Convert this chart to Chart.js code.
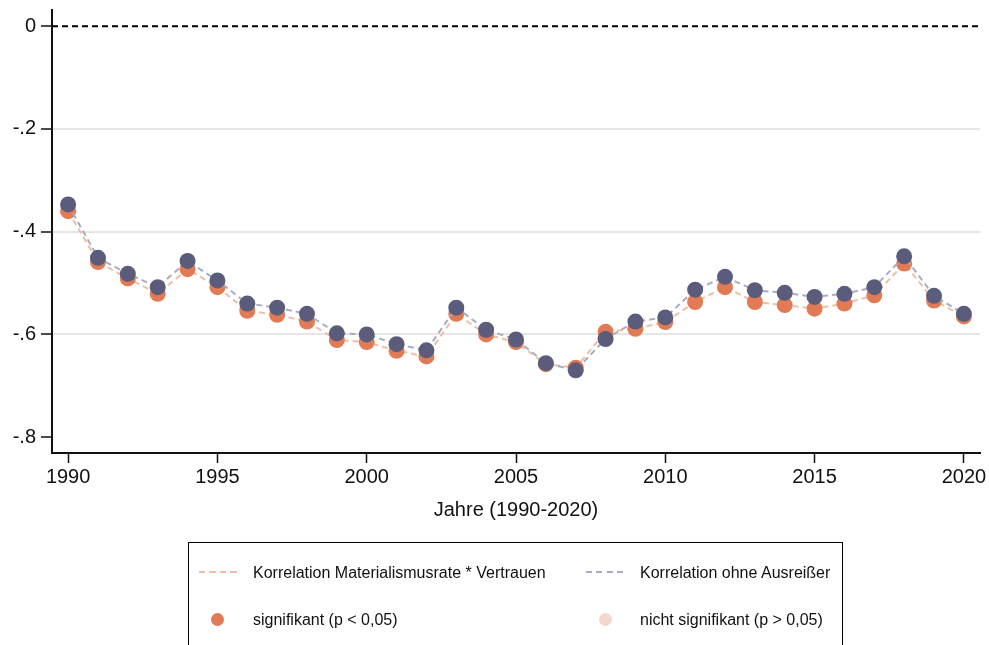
<!DOCTYPE html>
<html>
<head>
<meta charset="utf-8">
<script src="https://cdn.jsdelivr.net/npm/chart.js@4"></script>
<style>
  html, body { margin: 0; padding: 0; background: #fff; overflow: hidden; }
  #wrap { position: relative; width: 989px; height: 645px; font-family: "Liberation Sans", Arial, sans-serif; }
  #c { position: absolute; left: 0; top: 0; }
  #legend { position: absolute; left: 188px; top: 542px; width: 655px; height: 130px; border: 1px solid #000; box-sizing: border-box; }
  .item { position: absolute; font-size: 16px; color: #111; white-space: nowrap; line-height: 20px; }
  .dash { position: absolute; height: 2px; }
  .dot { position: absolute; width: 13px; height: 13px; border-radius: 50%; }
</style>
</head>
<body>
<div id="wrap">
  <canvas id="c" width="989" height="645"></canvas>
  <div id="legend"></div>
</div>
<script>
// ---- Data ----
const years = [1990,1991,1992,1993,1994,1995,1996,1997,1998,1999,2000,2001,2002,2003,2004,2005,2006,2007,2008,2009,2010,2011,2012,2013,2014,2015,2016,2017,2018,2019,2020];
const corrAll = [-0.360,-0.459,-0.491,-0.521,-0.473,-0.508,-0.554,-0.562,-0.575,-0.611,-0.615,-0.632,-0.643,-0.560,-0.600,-0.615,-0.658,-0.665,-0.595,-0.589,-0.576,-0.537,-0.508,-0.537,-0.543,-0.550,-0.540,-0.524,-0.462,-0.534,-0.565];
const corrNoOutliers = [-0.347,-0.451,-0.482,-0.508,-0.457,-0.495,-0.540,-0.548,-0.560,-0.598,-0.600,-0.619,-0.631,-0.548,-0.591,-0.610,-0.656,-0.670,-0.609,-0.575,-0.567,-0.513,-0.488,-0.514,-0.519,-0.527,-0.521,-0.508,-0.448,-0.525,-0.560];
const significant = [1,1,1,1,1,1,1,1,1,1,1,1,1,1,1,1,1,1,1,1,1,1,1,1,1,1,1,1,1,1,1];
const xTicks = [1990,1995,2000,2005,2010,2015,2020];
const yTicks = [-0.8,-0.6,-0.4,-0.2,0];
const labels = {
  lineAll: "Korrelation Materialismusrate * Vertrauen",
  lineNo: "Korrelation ohne Ausreißer",
  sig: "signifikant (p < 0,05)",
  nonsig: "nicht signifikant (p > 0,05)",
  xTitle: "Jahre (1990-2020)"
};

// ---- Colours ----
const C = {
  orangeDot: "#e07b56",
  orangeLine: "#f0bea8",
  purpleDot: "#5b5b7b",
  purpleLine: "#ababc2",
  nonsig: "#f3d7ca",
  grid: "#e6e6e6",
  axis: "#111"
};

const toXY = arr => arr.map((v, i) => ({ x: years[i], y: v }));

const zeroLine = {
  id: 'zeroLine',
  beforeDatasetsDraw(chart) {
    const { ctx, chartArea, scales } = chart;
    const y = scales.y.getPixelForValue(0);
    ctx.save();
    ctx.strokeStyle = '#000';
    ctx.lineWidth = 2;
    ctx.setLineDash([6, 4]);
    ctx.beginPath();
    ctx.moveTo(chartArea.left, y);
    ctx.lineTo(chartArea.right, y);
    ctx.stroke();
    ctx.restore();
  }
};

const font = { family: '"Liberation Sans", Arial, sans-serif', size: 20 };

new Chart(document.getElementById('c'), {
  type: 'line',
  data: {
    datasets: [
      {
        label: labels.lineAll,
        data: toXY(corrAll),
        borderColor: C.orangeLine,
        borderWidth: 2,
        borderDash: [6, 4],
        pointRadius: 8,
        pointBackgroundColor: significant.map(s => s ? C.orangeDot : C.nonsig),
        pointBorderWidth: 0,
        fill: false,
        tension: 0,
        order: 2
      },
      {
        label: labels.lineNo,
        data: toXY(corrNoOutliers),
        borderColor: C.purpleLine,
        borderWidth: 2,
        borderDash: [6, 4],
        pointRadius: 8,
        pointBackgroundColor: C.purpleDot,
        pointBorderWidth: 0,
        fill: false,
        tension: 0,
        order: 1
      }
    ]
  },
  options: {
    responsive: false,
    animation: false,
    devicePixelRatio: 1,
    layout: { padding: { left: 0, top: 10, right: 9, bottom: 123 } },
    plugins: { legend: { display: false }, tooltip: { enabled: false } },
    scales: {
      x: {
        type: 'linear',
        min: 1989.46,
        max: 2020.54,
        afterFit(s) { s.height = 69; s.paddingLeft = 0; s.paddingRight = 0; },
        afterBuildTicks(s) { s.ticks = xTicks.map(v => ({ value: v })); },
        border: { display: true, color: C.axis, width: 2 },
        grid: { drawOnChartArea: false, drawTicks: true, tickLength: 10, tickColor: C.axis, tickWidth: 1.5 },
        ticks: { color: '#111', font, padding: 2, maxRotation: 0, callback: v => String(v) },
        title: { display: true, text: labels.xTitle, color: '#111', font, padding: { top: 0, bottom: 0 } }
      },
      y: {
        type: 'linear',
        min: -0.831,
        max: 0.0317,
        afterFit(s) { s.width = 52; s.paddingTop = 0; s.paddingBottom = 0; },
        afterBuildTicks(s) { s.ticks = yTicks.map(v => ({ value: v })); },
        border: { display: true, color: C.axis, width: 2 },
        grid: {
          drawOnChartArea: true,
          color: c => (c.tick && (Math.abs(c.tick.value + 0.8) < 1e-6 || Math.abs(c.tick.value) < 1e-6)) ? 'rgba(0,0,0,0)' : C.grid,
          lineWidth: 2,
          drawTicks: true, tickLength: 11, tickColor: C.axis, tickWidth: 1.5
        },
        ticks: {
          color: '#111', font, padding: 5,
          callback: v => {
            if (Math.abs(v) < 1e-9) return '0';
            return (v < 0 ? '-' : '') + Math.abs(v).toFixed(1).replace(/^0/, '');
          }
        }
      }
    }
  },
  plugins: [zeroLine]
});

// ---- HTML legend (keys built from the same colours/labels) ----
const lg = document.getElementById('legend');
function add(html) { lg.insertAdjacentHTML('beforeend', html); }
const dashBg = col => `background: repeating-linear-gradient(90deg, ${col} 0 6px, transparent 6px 10.5px);`;
// coordinates relative to legend box padding edge
add(`<div class="dash" style="left:10px; top:28px; width:38px; ${dashBg(C.orangeLine)}"></div>`);
add(`<div class="item" style="left:64px; top:20px;">${labels.lineAll}</div>`);
add(`<div class="dash" style="left:397px; top:28px; width:39px; ${dashBg(C.purpleLine)}"></div>`);
add(`<div class="item" style="left:451px; top:20px;">${labels.lineNo}</div>`);
add(`<div class="dot" style="left:22px; top:70px; background:${C.orangeDot};"></div>`);
add(`<div class="item" style="left:64px; top:67px;">${labels.sig}</div>`);
add(`<div class="dot" style="left:410px; top:70px; background:${C.nonsig};"></div>`);
add(`<div class="item" style="left:451px; top:67px;">${labels.nonsig}</div>`);
</script>
</body>
</html>
